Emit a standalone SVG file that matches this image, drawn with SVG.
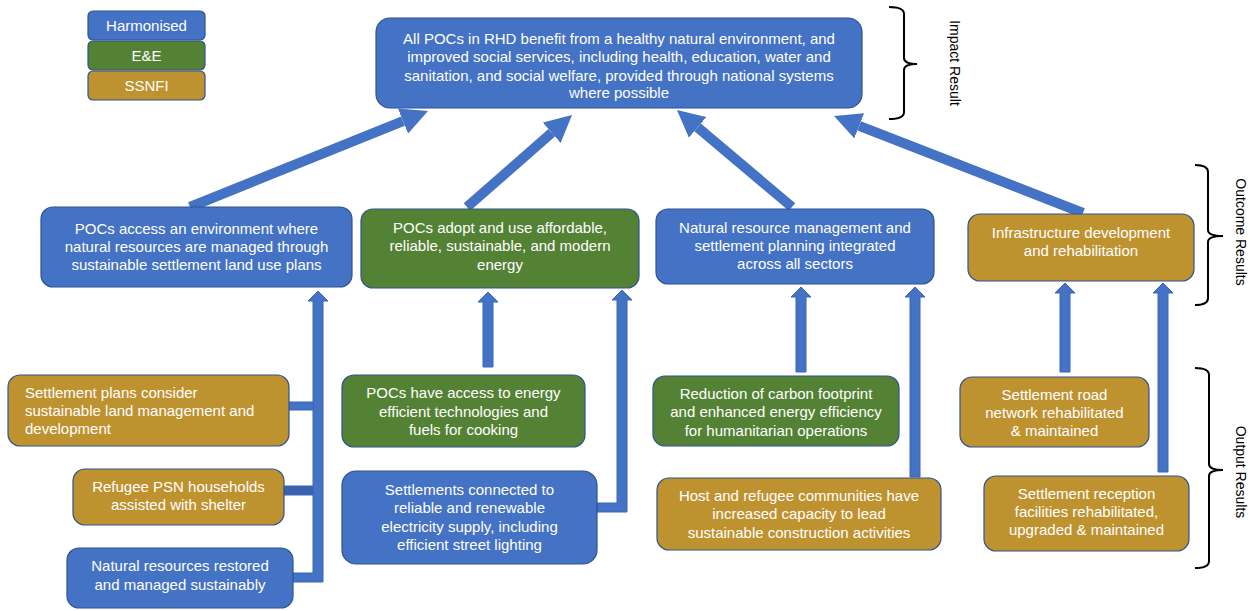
<svg xmlns="http://www.w3.org/2000/svg" width="1252" height="611" viewBox="0 0 1252 611">
<defs>
<style>
.box{stroke:#2F528F;stroke-width:1.2}
.b{fill:#4472C4}
.g{fill:#548235}
.y{fill:#BF9230}
.t{font-family:"Liberation Sans",Arial,sans-serif;font-size:15px;fill:#ffffff;text-anchor:middle}
.tl{text-anchor:start}
.arr{fill:#4472C4;stroke:#3A66B5;stroke-width:1}
.diag{stroke:#4472C4;stroke-width:10;fill:none;marker-end:url(#head)}
.br{fill:none;stroke:#000;stroke-width:2}
.lab{font-family:"Liberation Sans",Arial,sans-serif;font-size:14px;fill:#000;text-anchor:middle}
</style>
<marker id="head" markerUnits="userSpaceOnUse" markerWidth="27" markerHeight="27" refX="0" refY="13.5" orient="auto">
<path d="M0,0 L27,13.5 L0,27 z" fill="#4472C4"/>
</marker>
</defs>
<rect width="1252" height="611" fill="#ffffff"/>

<g id="connectors">
<line class="diag" x1="190" y1="207" x2="403" y2="121.1"/>
<line class="diag" x1="467" y1="207" x2="551.7" y2="132.8"/>
<line class="diag" x1="792" y1="207" x2="697.6" y2="127.4"/>
<line class="diag" x1="1083" y1="213" x2="859.2" y2="125.8"/>
<polygon class="arr" points="293,573 313,573 313,301 308,301 318,291 328,301 323,301 323,582 293,582"/>
<rect class="arr" x="289" y="402" width="24" height="8"/>
<rect class="arr" x="284" y="486" width="29" height="9" style="fill:#3A62AE"/>
<polygon class="arr" points="483,367 483,302 478,302 488,292 498,302 493,302 493,367"/>
<polygon class="arr" points="597,503 617,503 617,300 612,300 622,290 632,300 627,300 627,512 597,512"/>
<polygon class="arr" points="796,372 796,297 791,297 801,287 811,297 806,297 806,372"/>
<polygon class="arr" points="910,477 910,297 905,297 915,287 925,297 920,297 920,477"/>
<polygon class="arr" points="1060,372 1060,293 1055,293 1065,283 1075,293 1070,293 1070,372"/>
<polygon class="arr" points="1158,472 1158,293 1153,293 1163,283 1173,293 1168,293 1168,472"/>
</g>

<g id="legend-harmonised"><rect class="box b" x="88" y="11" width="117" height="29" rx="5"/><text class="t" x="146.5" y="31">Harmonised</text></g>
<g id="legend-ee"><rect class="box g" x="88" y="41" width="117" height="29" rx="5"/><text class="t" x="146.5" y="61">E&amp;E</text></g>
<g id="legend-ssnfi"><rect class="box y" x="88" y="71" width="117" height="29" rx="5"/><text class="t" x="146.5" y="91">SSNFI</text></g>

<g id="impact"><rect class="box b" x="376" y="18" width="486" height="90" rx="14"/>
<text class="t" x="619" y="44">All POCs in RHD benefit from a healthy natural environment, and</text>
<text class="t" x="619" y="62">improved social services, including health, education, water and</text>
<text class="t" x="619" y="81">sanitation, and social welfare, provided through national systems</text>
<text class="t" x="619" y="98">where possible</text></g>

<g id="outcome1"><rect class="box b" x="41" y="207" width="311" height="80" rx="12"/>
<text class="t" x="196.5" y="234">POCs access an environment where</text>
<text class="t" x="196.5" y="252">natural resources are managed through</text>
<text class="t" x="196.5" y="270">sustainable settlement land use plans</text></g>

<g id="outcome2"><rect class="box g" x="361" y="209" width="278" height="79" rx="12"/>
<text class="t" x="500" y="233">POCs adopt and use affordable,</text>
<text class="t" x="500" y="251">reliable, sustainable, and modern</text>
<text class="t" x="500" y="270">energy</text></g>

<g id="outcome3"><rect class="box b" x="656" y="209" width="278" height="75" rx="12"/>
<text class="t" x="795" y="233">Natural resource management and</text>
<text class="t" x="795" y="251">settlement planning integrated</text>
<text class="t" x="795" y="269">across all sectors</text></g>

<g id="outcome4"><rect class="box y" x="968" y="214" width="226" height="67" rx="12"/>
<text class="t" x="1081" y="238">Infrastructure development</text>
<text class="t" x="1081" y="256">and rehabilitation</text></g>

<g id="output-plans"><rect class="box y" x="8" y="375" width="281" height="71" rx="12"/>
<text class="t tl" x="25" y="398">Settlement plans consider</text>
<text class="t tl" x="25" y="416">sustainable land management and</text>
<text class="t tl" x="25" y="434">development</text></g>

<g id="output-psn"><rect class="box y" x="73" y="469" width="211" height="56" rx="12"/>
<text class="t" x="178.5" y="492">Refugee PSN households</text>
<text class="t" x="178.5" y="510">assisted with shelter</text></g>

<g id="output-natural"><rect class="box b" x="67" y="548" width="226" height="60" rx="12"/>
<text class="t" x="180" y="571">Natural resources restored</text>
<text class="t" x="180" y="590">and managed sustainably</text></g>

<g id="output-cooking"><rect class="box g" x="342" y="375" width="243" height="72" rx="12"/>
<text class="t" x="463.5" y="398">POCs have access to energy</text>
<text class="t" x="463.5" y="417">efficient technologies and</text>
<text class="t" x="463.5" y="435">fuels for cooking</text></g>

<g id="output-electricity"><rect class="box b" x="342" y="471" width="255" height="93" rx="14"/>
<text class="t" x="469.5" y="495">Settlements connected to</text>
<text class="t" x="469.5" y="513">reliable and renewable</text>
<text class="t" x="469.5" y="532">electricity supply, including</text>
<text class="t" x="469.5" y="550">efficient street lighting</text></g>

<g id="output-carbon"><rect class="box g" x="653" y="376" width="246" height="70" rx="12"/>
<text class="t" x="776" y="399">Reduction of carbon footprint</text>
<text class="t" x="776" y="417">and enhanced energy efficiency</text>
<text class="t" x="776" y="436">for humanitarian operations</text></g>

<g id="output-construction"><rect class="box y" x="657" y="478" width="284" height="72" rx="12"/>
<text class="t" x="799" y="501">Host and refugee communities have</text>
<text class="t" x="799" y="519">increased capacity to lead</text>
<text class="t" x="799" y="538">sustainable construction activities</text></g>

<g id="output-road"><rect class="box y" x="960" y="377" width="189" height="70" rx="12"/>
<text class="t" x="1054.5" y="400">Settlement road</text>
<text class="t" x="1054.5" y="418">network rehabilitated</text>
<text class="t" x="1054.5" y="436">&amp; maintained</text></g>

<g id="output-reception"><rect class="box y" x="984" y="476" width="205" height="75" rx="12"/>
<text class="t" x="1086.5" y="499">Settlement reception</text>
<text class="t" x="1086.5" y="517">facilities rehabilitated,</text>
<text class="t" x="1086.5" y="535">upgraded &amp; maintained</text></g>

<g id="bracket-impact">
<path class="br" d="M889,7 Q904,7 904,14 L904,58 Q904,64 917,64 Q904,64 904,70 L904,112 Q904,119 889,119"/>
<text class="lab" transform="translate(950,63) rotate(90)">Impact Result</text>
</g>
<g id="bracket-outcome">
<path class="br" d="M1195,165 Q1208,165 1208,172 L1208,230 Q1208,236 1223,236 Q1208,236 1208,242 L1208,298 Q1208,305 1195,305"/>
<text class="lab" transform="translate(1236,232) rotate(90)">Outcome Results</text>
</g>
<g id="bracket-output">
<path class="br" d="M1195,368 Q1209,368 1209,375 L1209,464 Q1209,470 1223,470 Q1209,470 1209,476 L1209,561 Q1209,568 1195,568"/>
<text class="lab" transform="translate(1236,472) rotate(90)">Output Results</text>
</g>
</svg>
